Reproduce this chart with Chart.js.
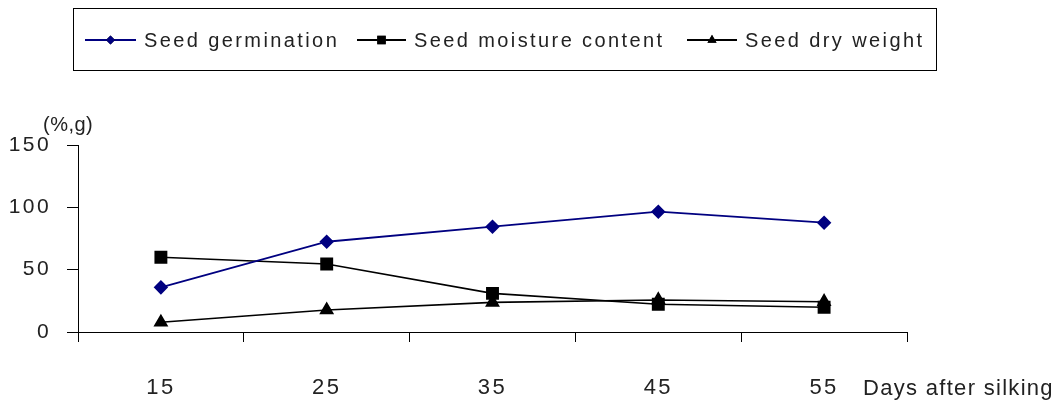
<!DOCTYPE html>
<html>
<head>
<meta charset="utf-8">
<script src="https://cdn.jsdelivr.net/npm/chart.js@4.4.1/dist/chart.umd.min.js"></script>
<style>
  html, body { margin: 0; padding: 0; background: #fff; }
  #wrap { width: 1059px; height: 410px; position: relative; }
</style>
</head>
<body>
<div id="wrap"><canvas id="chart"></canvas></div>
<script>
// data
const days = ['15', '25', '35', '45', '55'];
const germination = [35.8, 72.4, 84.5, 96.5, 87.7];
const moisture = [59.9, 54.5, 31.0, 22.2, 19.8];
const dryWeight = [7.8, 17.6, 23.8, 25.7, 24.3];
const yTicks = [0, 50, 100, 150];

const FAMILY = 'Liberation Sans, Arial, sans-serif';
const SPACING = '2.4px';
const TEXT = '#222';

// letter spacing for the wide-looking text
const spacingPlugin = {
  id: 'spacing',
  beforeDraw: (chart) => { chart.ctx.letterSpacing = SPACING; }
};

// legend box + axis captions
const extrasPlugin = {
  id: 'extras',
  afterDraw: (chart) => {
    const { ctx } = chart;
    ctx.save();
    ctx.letterSpacing = SPACING;

    // legend frame
    ctx.strokeStyle = '#000';
    ctx.lineWidth = 1;
    ctx.strokeRect(73.5, 8.5, 863, 62);

    const items = [
      { ds: 0, x0: 85, x1: 136 },
      { ds: 1, x0: 357, x1: 406 },
      { ds: 2, x0: 687, x1: 737 }
    ];
    const ly = 40;
    items.forEach(it => {
      const ds = chart.data.datasets[it.ds];
      ctx.strokeStyle = ds.borderColor;
      ctx.lineWidth = 2;
      ctx.beginPath();
      ctx.moveTo(it.x0, ly);
      ctx.lineTo(it.x1, ly);
      ctx.stroke();
      Chart.helpers.drawPoint(ctx, {
        pointStyle: ds.pointStyle,
        radius: ds.pointRadius * 0.75,
        borderWidth: 0
      }, (it.x0 + it.x1) / 2, ly);
      ctx.fillStyle = ds.pointBackgroundColor;
      ctx.fill();
      ctx.fillStyle = TEXT;
      ctx.font = '20px ' + FAMILY;
      ctx.textAlign = 'left';
      ctx.textBaseline = 'middle';
      ctx.fillText(ds.label, it.x1 + 8, ly + 1);
    });

    // y unit and x title
    ctx.fillStyle = TEXT;
    ctx.textAlign = 'left';
    ctx.textBaseline = 'middle';
    ctx.letterSpacing = '0.5px';
    ctx.font = '20px ' + FAMILY;
    ctx.fillText('(%,g)', 43, 125);
    ctx.letterSpacing = '1.3px';
    ctx.font = '22px ' + FAMILY;
    ctx.fillText('Days after silking', 863, 389);
    ctx.restore();
  }
};

new Chart(document.getElementById('chart'), {
  type: 'line',
  data: {
    labels: days,
    datasets: [
      {
        label: 'Seed germination',
        data: germination,
        borderColor: '#000080',
        backgroundColor: '#000080',
        pointBackgroundColor: '#000080',
        pointBorderColor: '#000080',
        pointStyle: 'rectRot',
        pointRadius: 6,
        borderWidth: 1.8
      },
      {
        label: 'Seed moisture content',
        data: moisture,
        borderColor: '#000',
        backgroundColor: '#000',
        pointBackgroundColor: '#000',
        pointBorderColor: '#000',
        pointStyle: 'rect',
        pointRadius: 8,
        borderWidth: 1.6
      },
      {
        label: 'Seed dry weight',
        data: dryWeight,
        borderColor: '#000',
        backgroundColor: '#000',
        pointBackgroundColor: '#000',
        pointBorderColor: '#000',
        pointStyle: 'triangle',
        pointRadius: 7,
        borderWidth: 1.6
      }
    ]
  },
  options: {
    responsive: true,
    maintainAspectRatio: false,
    animation: false,
    layout: { padding: { top: 145, right: 152, left: 0, bottom: 0 } },
    plugins: {
      legend: { display: false },
      tooltip: { enabled: false }
    },
    scales: {
      x: {
        offset: true,
        grid: {
          offset: true,
          drawOnChartArea: false,
          drawTicks: true,
          tickLength: 10,
          color: '#000',
          lineWidth: 1
        },
        border: { color: '#000', width: 1 },
        ticks: {
          color: TEXT,
          font: { family: FAMILY, size: 22 },
          padding: 33,
          maxRotation: 0
        },
        afterFit: (scale) => { scale.height = 78; }
      },
      y: {
        min: 0,
        max: 150,
        afterBuildTicks: (scale) => { scale.ticks = yTicks.map(v => ({ value: v })); },
        grid: {
          drawOnChartArea: false,
          drawTicks: true,
          tickLength: 11,
          color: '#000'
        },
        border: { color: '#000', width: 1 },
        ticks: {
          color: TEXT,
          font: { family: FAMILY, size: 21 },
          padding: 16
        },
        afterFit: (scale) => { scale.width = 78; }
      }
    }
  },
  plugins: [spacingPlugin, extrasPlugin]
});
</script>
</body>
</html>
